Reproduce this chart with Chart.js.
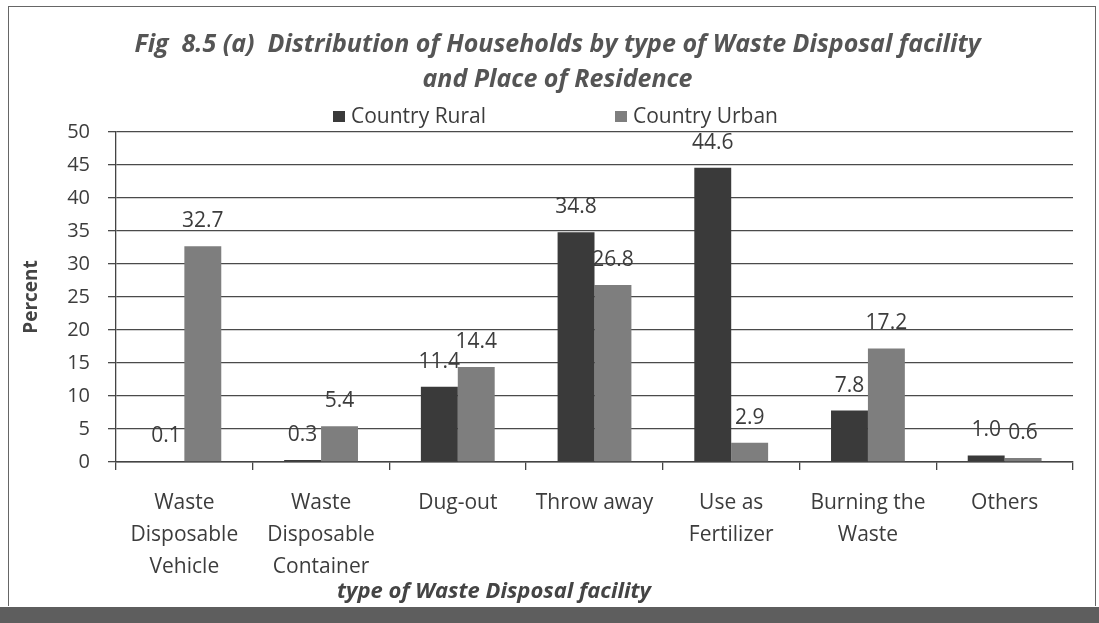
<!DOCTYPE html>
<html>
<head>
<meta charset="utf-8">
<title>Waste Disposal by Place of Residence</title>
<script src="https://cdn.jsdelivr.net/npm/chart.js@4/dist/chart.umd.min.js"></script>
<style>
  body { margin: 0; background: #fff; }
  #wrap { position: relative; width: 1099px; height: 623px; overflow: hidden; }
  #frame {
    position: absolute; left: 8px; top: 6px; width: 1088px; height: 600px;
    border: 1.5px solid #666; border-bottom: none; box-sizing: border-box;
  }
  #band { position: absolute; left: 0; top: 607px; width: 1099px; height: 16px; background: #5e5e5e; }
  canvas { position: absolute; left: 0; top: 0; }
</style>
</head>
<body>
<div id="wrap">
  <div id="frame"></div>
  <canvas id="chart" width="1099" height="623"></canvas>
  <div id="band"></div>
</div>
<script>
const categories = [
    ["Waste", "Disposable", "Vehicle"],
    ["Waste", "Disposable", "Container"],
    "Dug-out",
    "Throw away",
    ["Use as", "Fertilizer"],
    ["Burning the", "Waste"],
    "Others"
];
const ruralValues = [0.1, 0.3, 11.4, 34.8, 44.6, 7.8, 1.0];
const urbanValues = [32.7, 5.4, 14.4, 26.8, 2.9, 17.2, 0.6];
const seriesNames = ["Country Rural", "Country Urban"];
const yTicks = [0, 5, 10, 15, 20, 25, 30, 35, 40, 45, 50];
const xTitle = "type of Waste Disposal facility";
const yTitle = "Percent";

const FONT = "'Open Sans', Lato, sans-serif";
const TEXT = "#3c3c3c";

// value labels above each bar
const barLabels = {
    id: "barLabels",
    afterDatasetsDraw(chart) {
        const ctx = chart.ctx;
        ctx.save();
        ctx.font = "21px " + FONT;
        ctx.fillStyle = TEXT;
        ctx.textAlign = "center";
        ctx.textBaseline = "middle";
        chart.data.datasets.forEach((ds, i) => {
            chart.getDatasetMeta(i).data.forEach((bar, j) => {
                ctx.fillText(ds.data[j].toFixed(1), bar.x, bar.y - 25);
            });
        });
        ctx.restore();
    }
};

// legend row under the title, plus both axis captions
const extras = {
    id: "extras",
    afterDraw(chart) {
        const ctx = chart.ctx;
        const area = chart.chartArea;
        const spots = [333, 615];
        ctx.save();
        ctx.font = "21px " + FONT;
        ctx.textBaseline = "middle";
        chart.data.datasets.forEach((ds, i) => {
            const x = spots[i];
            ctx.fillStyle = ds.backgroundColor;
            ctx.fillRect(x, 111, 12, 11);
            ctx.fillStyle = TEXT;
            ctx.fillText(ds.label, x + 18, 117);
        });
        ctx.fillStyle = "#444";
        ctx.textAlign = "center";
        ctx.font = "italic bold 22px " + FONT;
        ctx.fillText(xTitle, 494, 592);

        ctx.translate(32, (area.top + area.bottom) / 2);
        ctx.rotate(-Math.PI / 2);
        ctx.font = "bold 19px " + FONT;
        ctx.fillText(yTitle, 0, 0);
        ctx.restore();
    }
};

new Chart(document.getElementById("chart"), {
    type: "bar",
    data: {
        labels: categories,
        datasets: [
            { label: seriesNames[0], data: ruralValues, backgroundColor: "#3a3a3a" },
            { label: seriesNames[1], data: urbanValues, backgroundColor: "#7e7e7e" }
        ]
    },
    options: {
        responsive: false,
        animation: false,
        layout: { padding: { left: 42, right: 26, top: 10, bottom: 16 } },
        datasets: { bar: { categoryPercentage: 0.54, barPercentage: 1.0 } },
        plugins: {
            legend: { display: false },
            tooltip: { enabled: false },
            title: {
                display: true,
                text: ["Fig  8.5 (a)  Distribution of Households by type of Waste Disposal facility",
                       "and Place of Residence"],
                color: "#555",
                font: { family: FONT, size: 25, weight: "bold", style: "italic", lineHeight: 1.4 },
                padding: { top: 17, bottom: 35 }
            }
        },
        scales: {
            x: {
                grid: { display: true, drawOnChartArea: false, tickLength: 8, color: "#444", lineWidth: 1.3 },
                border: { display: true, color: "#444", width: 1.5 },
                ticks: { color: TEXT, padding: 17, maxRotation: 0, autoSkip: false,
                         font: { family: FONT, size: 21, lineHeight: 1.52 } },
                afterFit(scale) { scale.height = 145; }
            },
            y: {
                min: 0,
                max: 50,
                afterBuildTicks(scale) { scale.ticks = yTicks.map(v => ({ value: v })); },
                grid: { color: "#4a4a4a", lineWidth: 1.3, tickLength: 8 },
                border: { display: true, color: "#444", width: 1.3 },
                ticks: { color: TEXT, padding: 18, font: { family: FONT, size: 20 } },
                afterFit(scale) { scale.width = 74; }
            }
        }
    },
    plugins: [barLabels, extras]
});
</script>
</body>
</html>
